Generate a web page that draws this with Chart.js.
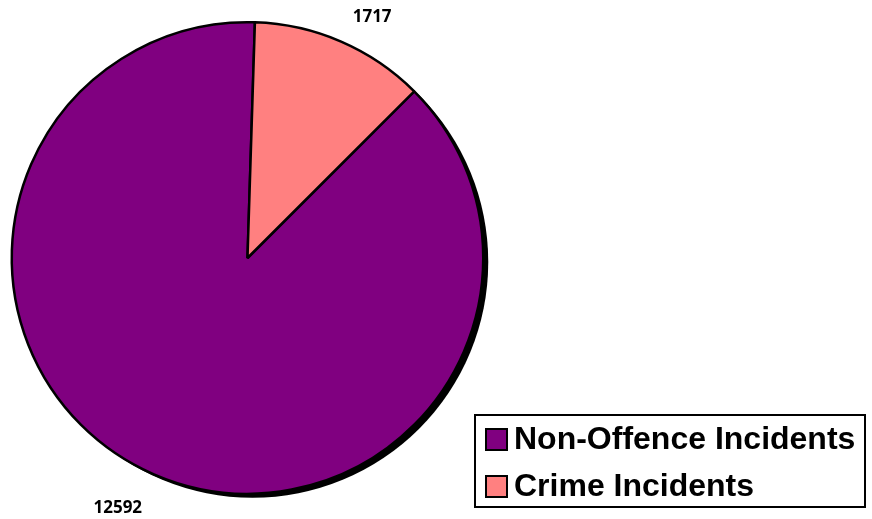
<!DOCTYPE html>
<html>
<head>
<meta charset="utf-8">
<script src="https://cdn.jsdelivr.net/npm/chart.js@4/dist/chart.umd.min.js"></script>
<style>
  html, body { margin: 0; padding: 0; background: #fff; }
  #wrap { width: 872px; height: 519px; position: relative; }
</style>
</head>
<body>
<div id="wrap"><canvas id="pieChart" width="872" height="519"></canvas></div>
<script>
// Datos del gráfico
const categorias = ['Non-Offence Incidents', 'Crime Incidents'];
const incidentes = [12592, 1717];
const colores = ['#800080', '#FF8080'];

// Sombra negra detrás del pastel (abajo a la derecha)
const sombraPastel = {
    id: 'sombraPastel',
    beforeDatasetsDraw(chart) {
        const arc = chart.getDatasetMeta(0).data[0];
        if (!arc) return;
        const ctx = chart.ctx;
        ctx.save();
        ctx.fillStyle = '#000';
        ctx.beginPath();
        ctx.arc(arc.x + 5, arc.y + 4, arc.outerRadius, 0, Math.PI * 2);
        ctx.fill();
        ctx.restore();
    }
};

// Etiquetas de valores fuera del pastel
const etiquetasValores = {
    id: 'etiquetasValores',
    afterDatasetsDraw(chart) {
        const ctx = chart.ctx;
        const meta = chart.getDatasetMeta(0);
        ctx.save();
        ctx.font = 'bold 17px "Open Sans", sans-serif';
        ctx.fillStyle = '#000';
        ctx.textAlign = 'center';
        ctx.textBaseline = 'middle';
        const extra = [0.07, 0.07];
        const dist = [46, 35];
        meta.data.forEach((arc, i) => {
            const mid = (arc.startAngle + arc.endAngle) / 2 + extra[i];
            const r = arc.outerRadius + dist[i];
            ctx.fillText(String(incidentes[i]), arc.x + Math.cos(mid) * r, arc.y + Math.sin(mid) * r);
        });
        ctx.restore();
    }
};

// Leyenda con recuadro abajo a la derecha
const leyendaRecuadro = {
    id: 'leyendaRecuadro',
    afterDraw(chart) {
        const ctx = chart.ctx;
        const x = 475, y = 415, w = 390, h = 92;
        ctx.save();
        ctx.fillStyle = '#fff';
        ctx.fillRect(x, y, w, h);
        ctx.strokeStyle = '#000';
        ctx.lineWidth = 2;
        ctx.strokeRect(x, y, w, h);
        ctx.font = 'bold 32px Arial';
        ctx.textBaseline = 'middle';
        chart.data.labels.forEach((lbl, i) => {
            const cy = y + 24 + i * 47;
            ctx.fillStyle = chart.data.datasets[0].backgroundColor[i];
            ctx.fillRect(x + 11, cy - 10, 21, 21);
            ctx.lineWidth = 2;
            ctx.strokeRect(x + 11, cy - 10, 21, 21);
            ctx.fillStyle = '#000';
            ctx.fillText(lbl, x + 39, cy + 1);
        });
        ctx.restore();
    }
};

const canvas = document.getElementById('pieChart');
new Chart(canvas, {
    type: 'pie',
    data: {
        labels: categorias,
        datasets: [{
            data: incidentes,
            backgroundColor: colores,
            borderColor: '#000',
            borderWidth: 2.5
        }]
    },
    options: {
        responsive: false,
        animation: false,
        rotation: 45,
        layout: {
            padding: { left: 10, top: 21, right: 387, bottom: 24 }
        },
        plugins: {
            legend: { display: false },
            tooltip: { enabled: false }
        }
    },
    plugins: [sombraPastel, etiquetasValores, leyendaRecuadro]
});
</script>
</body>
</html>
